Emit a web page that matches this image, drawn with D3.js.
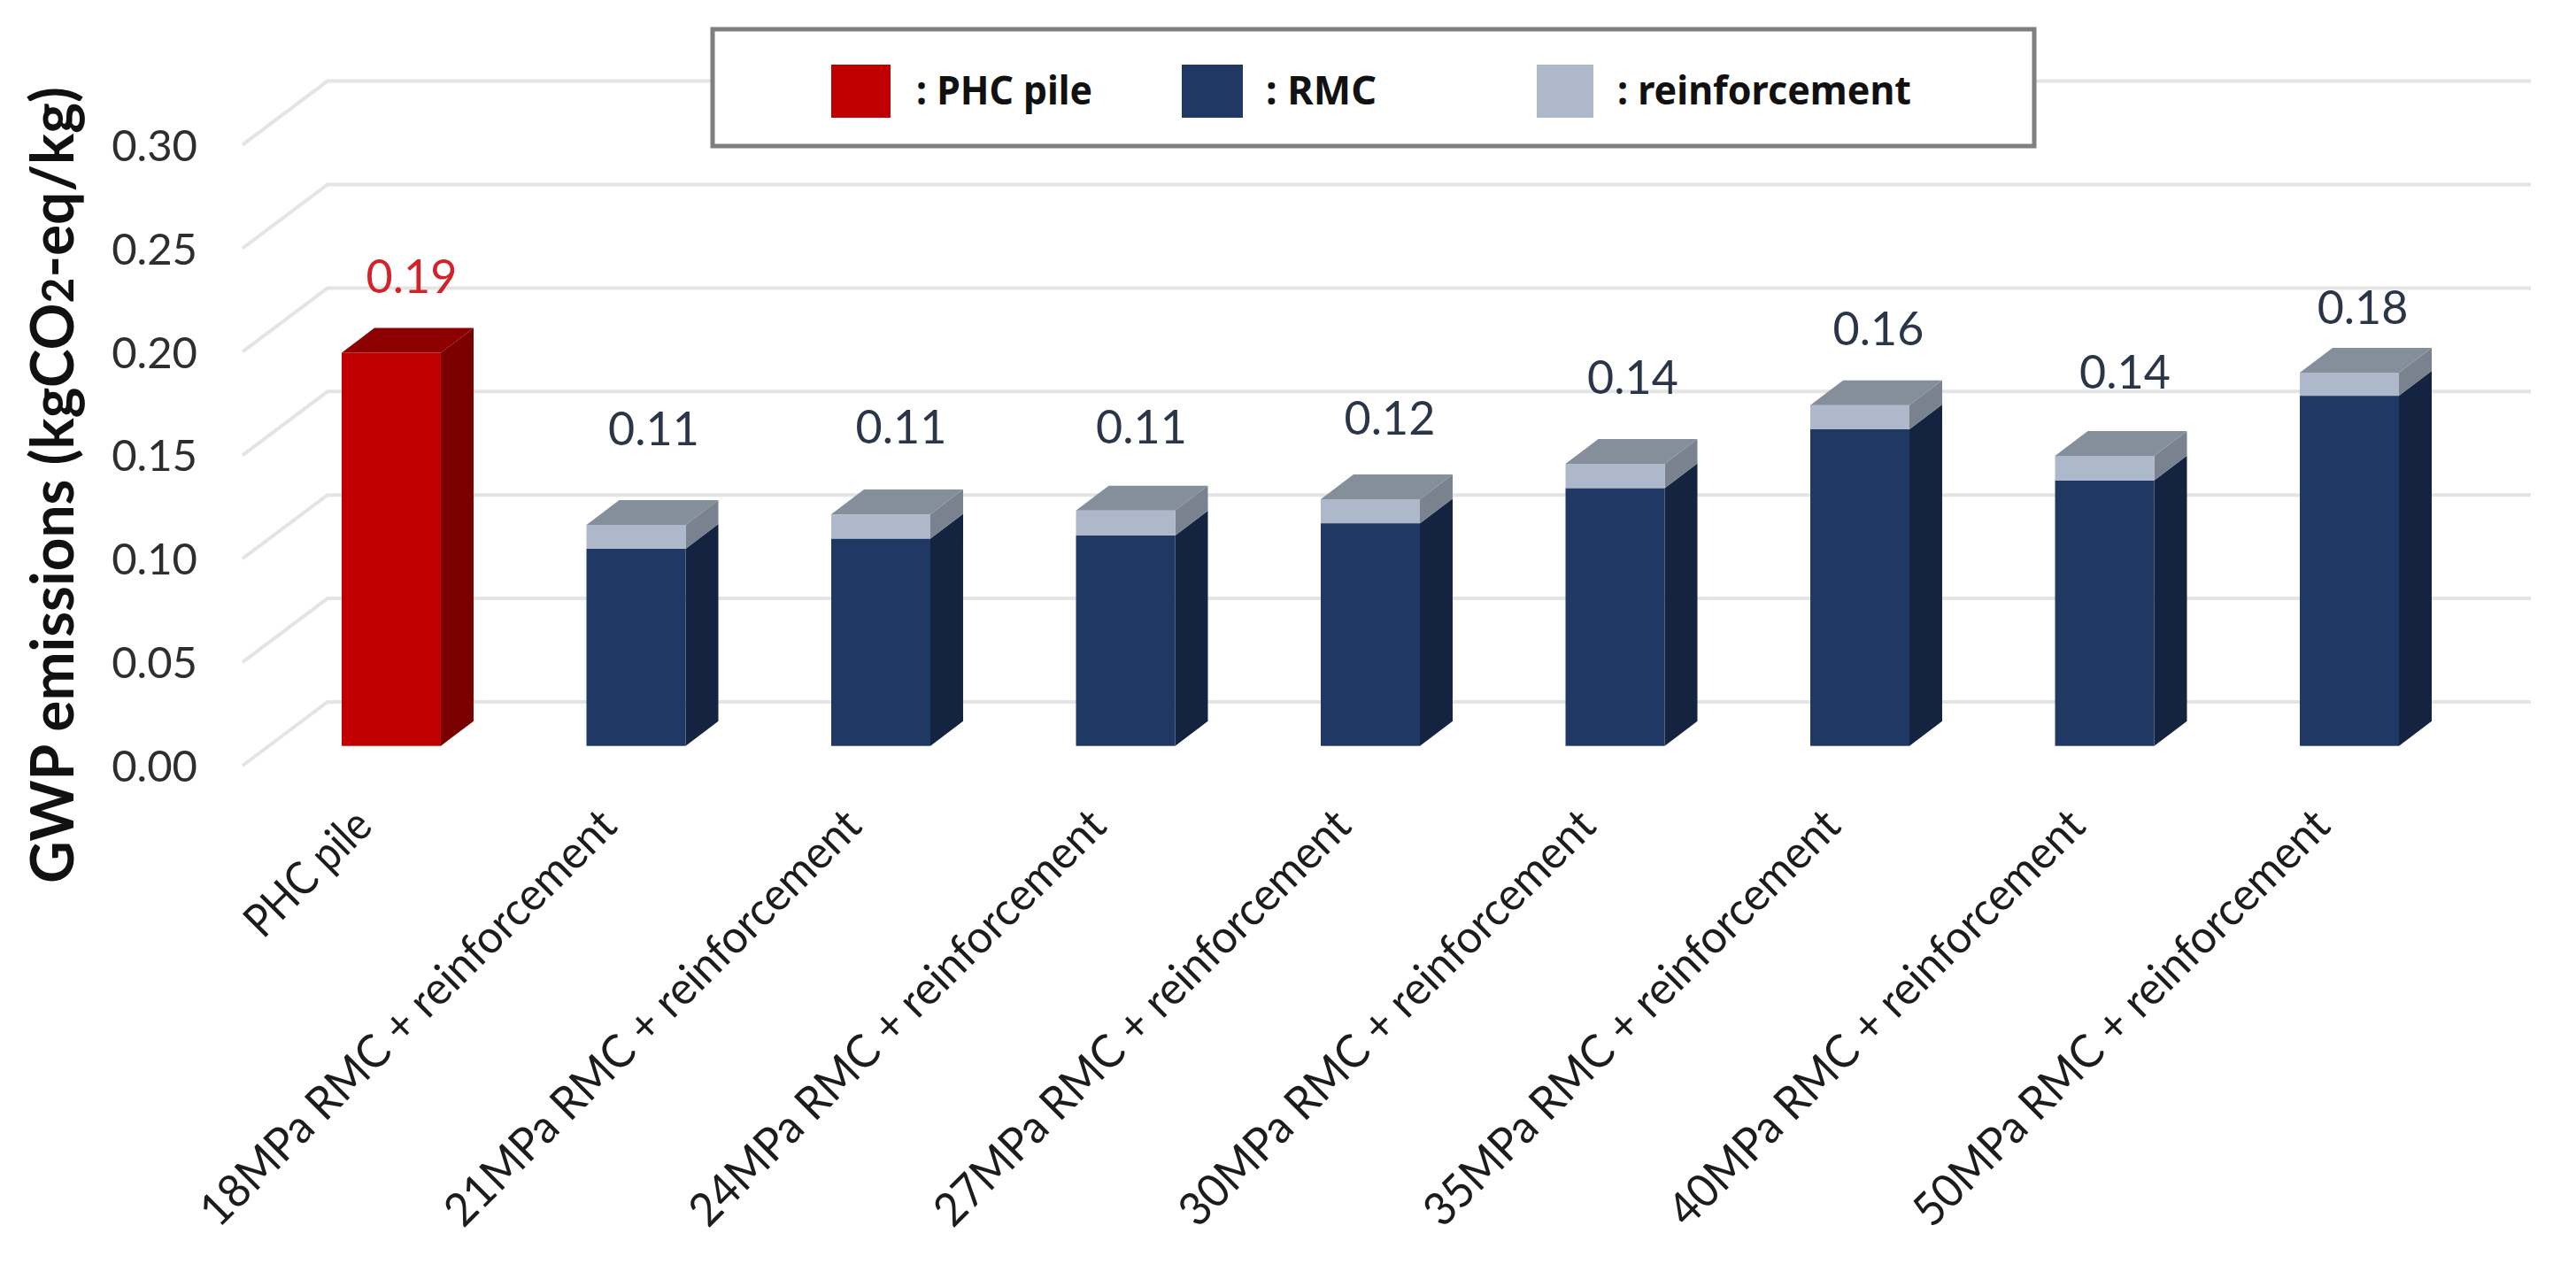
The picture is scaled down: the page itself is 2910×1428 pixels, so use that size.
<!DOCTYPE html>
<html><head><meta charset="utf-8">
<script src="https://cdn.jsdelivr.net/npm/d3@7"></script>
<style>html,body{margin:0;padding:0;background:#fff}svg{display:block}text{font-family:Lato,sans-serif}</style>
</head><body><svg id="c" width="2910" height="1428"></svg>
<script>
const categories=["PHC pile","18MPa RMC + reinforcement","21MPa RMC + reinforcement","24MPa RMC + reinforcement","27MPa RMC + reinforcement","30MPa RMC + reinforcement","35MPa RMC + reinforcement","40MPa RMC + reinforcement","50MPa RMC + reinforcement"];
const phcValues=[0.19,0,0,0,0,0,0,0,0];
const rmcValues=[0,0.0953,0.1002,0.1017,0.1076,0.1246,0.153,0.1283,0.1692];
const reinforcementValues=[0,0.0115,0.0117,0.012,0.0116,0.0117,0.0117,0.0119,0.0112];
const totalLabels=["0.19","0.11","0.11","0.11","0.12","0.14","0.16","0.14","0.18"];
const yTicks=[0,0.05,0.10,0.15,0.20,0.25,0.30];
const legendItems=[": PHC pile",": RMC",": reinforcement"];

// hand placement of the value labels in the original, in pixels
const labelRise=[58,81,71,67,64,70,58.7,67,46];
const labelShift=[23,20,23,18,22,20,21,23,15];

const svg=d3.select("#c");
const x=d3.scaleBand().domain(categories).range([386,2710]).paddingInner(0.595).paddingOuter(0);
const y=d3.scaleLinear().domain([0,0.30]).range([865,163.6]);
const wallDx=96,wallDy=72,gridRight=2859;
const barDrop=22.3,depthX=37,depthY=28;

// gridlines: floor/side diagonal and back wall line
const grid=svg.append("g").attr("fill","none").attr("stroke","#e4e4e4").attr("stroke-width",4);
grid.selectAll("path").data(yTicks).join("path")
  .attr("d",v=>{const p=d3.path();const Y=y(v);p.moveTo(274,Y);p.lineTo(274+wallDx,Y-wallDy);p.lineTo(gridRight,Y-wallDy);return p.toString();});

// y axis
const yAxis=svg.append("g").attr("transform","translate(223,2)")
  .call(d3.axisLeft(y).tickValues(yTicks).tickSize(0).tickPadding(0).tickFormat(d3.format(".2f")));
yAxis.select(".domain").remove();
yAxis.selectAll("text").attr("font-size",49).attr("fill","#2e2e2e").style("font-family","Lato");

// 3D stacked boxes
const palette={
  phc:{front:"#C00000",top:"#8C0000",side:"#7A0000"},
  rmc:{front:"#1F3864",top:"#16294A",side:"#14233F"},
  reinforcement:{front:"#ADB9CA",top:"#858F9C",side:"#79828E"}
};
function segments(i){
  const out=[];let b=0;
  [["phc",phcValues[i]],["rmc",rmcValues[i]],["reinforcement",reinforcementValues[i]]].forEach(([k,v])=>{
    if(v>0){out.push({key:k,lo:b,hi:b+v});b+=v;}
  });
  return out;
}
const yBar=v=>y(v)-barDrop;
categories.forEach((c,i)=>{
  const g=svg.append("g");
  const x0=x(c),x1=x0+x.bandwidth();
  const segs=segments(i);
  g.selectAll("path.side").data(segs).join("path").attr("class","side")
    .attr("fill",d=>palette[d.key].side)
    .attr("d",d=>`M${x1},${yBar(d.lo)}L${x1+depthX},${yBar(d.lo)-depthY}L${x1+depthX},${yBar(d.hi)-depthY}L${x1},${yBar(d.hi)}Z`);
  g.selectAll("rect.front").data(segs).join("rect").attr("class","front")
    .attr("x",x0).attr("width",x.bandwidth())
    .attr("y",d=>yBar(d.hi)).attr("height",d=>yBar(d.lo)-yBar(d.hi))
    .attr("fill",d=>palette[d.key].front);
  const t=segs[segs.length-1];
  g.append("path").attr("fill",palette[t.key].top)
    .attr("d",`M${x0},${yBar(t.hi)}L${x0+depthX},${yBar(t.hi)-depthY}L${x1+depthX},${yBar(t.hi)-depthY}L${x1},${yBar(t.hi)}Z`);
  g.append("text").text(totalLabels[i])
    .attr("x",x0+x.bandwidth()/2+labelShift[i])
    .attr("y",yBar(t.hi)-depthY-labelRise[i])
    .attr("dy","0.36em").attr("text-anchor","middle").attr("font-size",52)
    .attr("fill",i===0?"#D2232A":"#2A3648");
});

// x axis: rotated category labels
const xAxis=svg.append("g").attr("transform","translate(0,936)")
  .call(d3.axisBottom(x).tickSize(0).tickPadding(0));
xAxis.select(".domain").remove();
xAxis.selectAll("text")
  .attr("font-size",52).attr("fill","#1c1c1c").style("font-family","Lato")
  .attr("text-anchor","end").attr("x",0).attr("y",0).attr("dy",0)
  .attr("transform","translate(-19,0) rotate(-45)")
  .attr("textLength",d=>d===categories[0]?178:640).attr("lengthAdjust","spacingAndGlyphs");

// y title
const title=svg.append("text").attr("transform","translate(83,998) rotate(-90)")
  .attr("font-size",66).attr("font-weight",700).attr("fill","#111")
  .attr("textLength",900).attr("lengthAdjust","spacingAndGlyphs");
title.append("tspan").text("GWP emissions (kgCO");
title.append("tspan").attr("font-size",50).text("2");
title.append("tspan").text("-eq/kg)");

// legend
const lg=svg.append("g");
lg.append("rect").attr("x",805).attr("y",33).attr("width",1493).attr("height",132)
  .attr("fill","#fff").attr("stroke","#7f7f7f").attr("stroke-width",5);
const swX=[939,1335,1736],swW=[67,69,64],txX=[1035,1430,1827],txW=[199,125,332],swC=["#C00000","#1F3864","#ADB9CA"];
lg.selectAll("rect.sw").data(legendItems).join("rect").attr("class","sw")
  .attr("x",(d,i)=>swX[i]).attr("y",73).attr("width",(d,i)=>swW[i]).attr("height",60).attr("fill",(d,i)=>swC[i]);
lg.selectAll("text").data(legendItems).join("text").text(d=>d)
  .attr("x",(d,i)=>txX[i]).attr("y",118).attr("font-size",45).attr("font-weight",700)
  .style("font-family","'Noto Sans'").attr("fill","#111")
  .attr("textLength",(d,i)=>txW[i]).attr("lengthAdjust","spacingAndGlyphs");
</script></body></html>
